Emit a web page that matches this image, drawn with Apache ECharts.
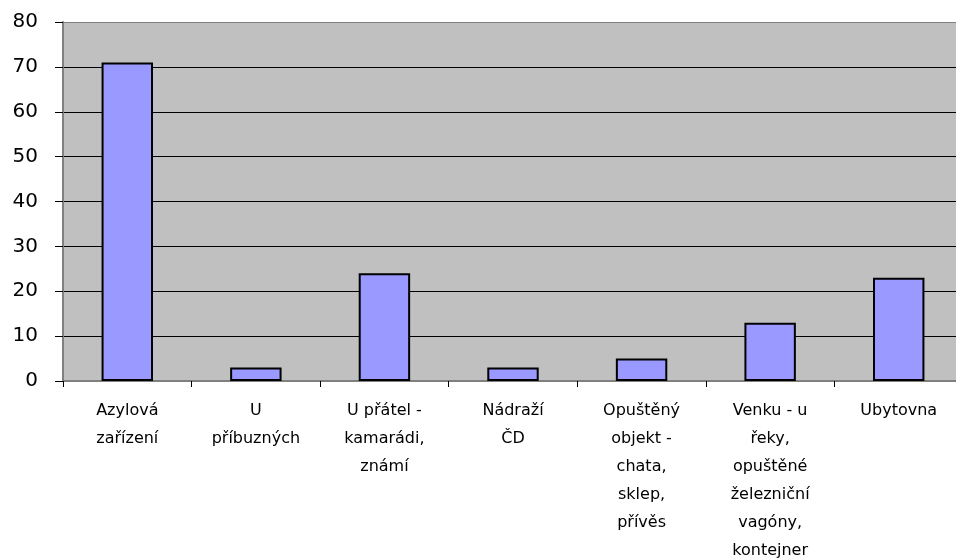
<!DOCTYPE html>
<html>
<head>
<meta charset="utf-8">
<script src="https://cdn.jsdelivr.net/npm/echarts@6/dist/echarts.min.js"></script>
<style>
  html, body { margin: 0; padding: 0; background: #fff; }
  #chart { width: 956px; height: 560px; }
</style>
</head>
<body>
<div id="chart"></div>
<script>
// kategorie a hodnoty
const categories = [
  'Azylová\nzařízení',
  'U\npříbuzných',
  'U přátel -\nkamarádi,\nznámí',
  'Nádraží\nČD',
  'Opuštěný\nobjekt -\nchata,\nsklep,\npřívěs',
  'Venku - u\nřeky,\nopuštěné\nželezniční\nvagóny,\nkontejner',
  'Ubytovna'
];
const values = [71, 3, 24, 3, 5, 13, 23];
const yTicks = [0, 10, 20, 30, 40, 50, 60, 70, 80];

const chart = echarts.init(document.getElementById('chart'));
chart.setOption({
  animation: false,
  backgroundColor: '#ffffff',
  grid: {
    left: 63,
    top: 22,
    width: 900,
    height: 359,
    outerBoundsMode: 'none',
    containLabel: false,
    show: true,
    backgroundColor: '#c0c0c0',
    borderWidth: 0
  },
  xAxis: {
    type: 'category',
    data: categories,
    axisLine: { show: true, lineStyle: { color: '#808080', width: 2 } },
    axisTick: { show: true, length: 6, lineStyle: { color: '#000' } },
    axisLabel: {
      interval: 0,
      margin: 16,
      color: '#000',
      fontFamily: 'DejaVu Sans, sans-serif',
      fontSize: 16,
      lineHeight: 28
    }
  },
  yAxis: {
    type: 'value',
    min: yTicks[0],
    max: yTicks[yTicks.length - 1],
    interval: 10,
    axisLine: { show: true, lineStyle: { color: '#808080', width: 2 } },
    axisTick: { show: true, length: 8, lineStyle: { color: '#000' } },
    splitLine: {
      show: true,
      lineStyle: { color: ['#000', '#000', '#000', '#000', '#000', '#000', '#000', '#000', '#808080'], width: 1 }
    },
    axisLabel: {
      margin: 25,
      color: '#000',
      fontFamily: 'DejaVu Sans, sans-serif',
      fontSize: 20
    }
  },
  series: [{
    type: 'bar',
    data: values,
    barWidth: '40%',
    itemStyle: { color: '#9999ff', borderColor: '#000', borderWidth: 2 }
  }]
});
</script>
</body>
</html>
